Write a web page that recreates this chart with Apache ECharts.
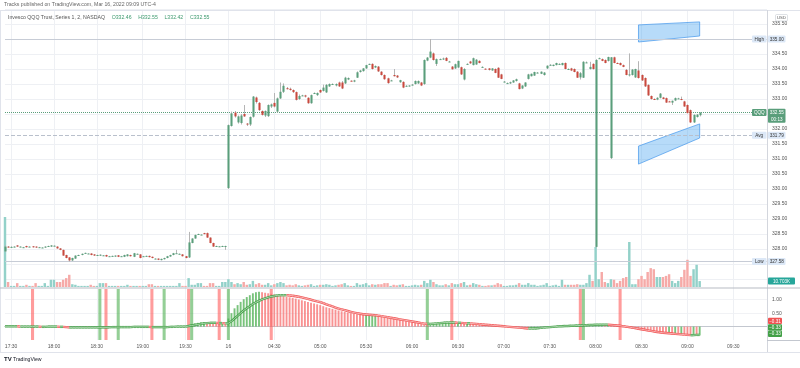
<!DOCTYPE html>
<html><head><meta charset="utf-8">
<script src="https://cdn.jsdelivr.net/npm/echarts/dist/echarts.min.js"></script>
<style>html,body{margin:0;padding:0;background:#fff}#c{width:800px;height:368px}</style>
</head><body><div id="c"></div>
<script>
// ---------- time categories (2-minute bars) ----------
const missingAH = ['17:44','18:14','19:12','19:44'];
function pad(n){return (n<10?'0':'')+n;}
const cats = [];
for (let m = 17*60+26; m <= 19*60+58; m += 2) { const t = pad(Math.floor(m/60))+':'+pad(m%60); if (missingAH.indexOf(t) < 0) cats.push(t); }
for (let m = 4*60; m <= 9*60+52; m += 2) cats.push(pad(Math.floor(m/60))+':'+pad(m%60));

// ---------- OHLC [open, high, low, close] ----------
const ohlcAfterHours = [
[327.92,328.12,327.90,328.08],[328.08,328.10,328.05,328.07],[328.07,328.09,328.06,328.07],[328.07,328.09,328.06,328.08],[328.12,328.13,328.07,328.08],
[328.08,328.09,328.07,328.08],[328.06,328.07,328.05,328.06],[328.10,328.11,328.05,328.06],[328.08,328.09,328.07,328.08],[328.09,328.10,328.05,328.06],
[328.08,328.09,328.04,328.05],[328.06,328.07,328.05,328.06],[328.05,328.06,328.04,328.05],[328.05,328.09,328.04,328.08],[328.10,328.11,328.09,328.10],
[328.08,328.13,328.07,328.12],[328.11,328.12,328.10,328.11],[328.08,328.09,328.01,328.02],[328.02,328.03,327.96,327.97],[327.97,327.98,327.77,327.78],
[327.80,327.81,327.69,327.70],[327.72,327.73,327.58,327.62],[327.62,327.71,327.60,327.70],[327.68,327.79,327.67,327.78],[327.80,327.81,327.79,327.80],
[327.80,327.85,327.79,327.84],[327.87,327.88,327.86,327.87],[327.85,327.86,327.84,327.85],[327.85,327.86,327.79,327.80],[327.82,327.83,327.77,327.78],
[327.80,327.81,327.79,327.80],[327.78,327.82,327.77,327.81],[327.79,327.80,327.78,327.79],[327.80,327.81,327.74,327.75],[327.76,327.77,327.75,327.76],
[327.77,327.78,327.76,327.77],[327.75,327.79,327.74,327.78],[327.79,327.80,327.73,327.74],[327.76,327.77,327.75,327.76],[327.74,327.81,327.73,327.80],
[327.76,327.83,327.75,327.82],[327.80,327.81,327.75,327.76],[327.74,327.87,327.73,327.86],[327.84,327.85,327.83,327.84],[327.82,327.83,327.69,327.70],
[327.76,327.77,327.75,327.76],[327.77,327.78,327.76,327.77],[327.77,327.78,327.72,327.73],[327.74,327.75,327.69,327.70],[327.68,327.69,327.67,327.68],
[327.68,327.69,327.63,327.64],[327.63,327.68,327.62,327.67],[327.66,327.71,327.65,327.70],[327.70,327.77,327.69,327.76],[327.75,327.81,327.74,327.80],
[327.80,327.87,327.79,327.86],[327.86,327.97,327.85,327.86],[327.84,327.85,327.83,327.84],[327.82,327.83,327.75,327.76],[327.76,327.77,327.69,327.70],
[327.72,328.57,327.70,328.22],[328.20,328.36,328.19,328.35],[328.35,328.48,328.34,328.47],[328.50,328.51,328.49,328.50],[328.48,328.49,328.47,328.48],
[328.53,328.54,328.49,328.50],[328.53,328.55,328.37,328.38],[328.38,328.39,328.19,328.20],[328.20,328.21,328.07,328.08],[328.10,328.11,328.09,328.10],
[328.09,328.10,328.08,328.09],[328.10,328.11,328.09,328.10],[328.10,328.11,327.97,328.10]
];
const ohlcPremarket = [
[330.03,332.15,330.00,332.13],[332.10,332.58,332.08,332.52],[332.55,332.60,332.38,332.42],[332.22,332.45,332.18,332.42],[332.20,332.50,332.15,332.45],
[332.50,332.80,332.40,332.42],[332.18,332.20,332.10,332.15],[332.15,332.42,332.10,332.40],[332.41,333.10,332.38,333.08],[333.05,333.08,332.85,332.90],
[332.87,332.90,332.60,332.63],[332.60,332.62,332.45,332.47],[332.45,332.62,332.40,332.60],[332.43,332.82,332.40,332.80],[332.75,332.85,332.70,332.82],
[332.87,333.20,332.72,332.75],[332.58,333.05,332.55,333.02],[333.02,333.55,333.00,333.24],[333.24,333.52,333.20,333.44],[333.36,333.40,333.32,333.35],
[333.34,333.38,333.28,333.30],[333.30,333.32,333.20,333.23],[333.23,333.25,332.95,332.97],[333.00,333.15,332.97,333.10],[333.11,333.14,333.10,333.12],
[333.12,333.14,333.05,333.08],[333.04,333.06,332.84,332.86],[332.86,333.15,332.84,333.13],[333.19,333.22,333.18,333.20],[333.13,333.22,333.10,333.20],
[333.30,333.32,333.20,333.22],[333.27,333.48,333.25,333.38],[333.22,333.50,333.20,333.47],[333.42,333.52,333.40,333.50],[333.50,333.52,333.48,333.50],
[333.45,333.52,333.42,333.50],[333.55,333.58,333.40,333.42],[333.55,333.60,333.33,333.35],[333.52,333.74,333.50,333.71],[333.65,333.72,333.63,333.70],
[333.61,333.62,333.59,333.60],[333.58,333.64,333.56,333.62],[333.71,333.92,333.70,333.89],[333.90,333.97,333.88,333.95],[333.93,334.03,333.91,334.02],
[334.02,334.14,334.00,334.13],[334.15,334.18,334.14,334.17],[334.17,334.19,333.98,334.00],[334.05,334.12,334.03,334.10],[334.08,334.10,333.90,333.92],
[333.91,333.93,333.78,333.80],[333.80,333.82,333.64,333.66],[333.69,333.71,333.51,333.53],[333.62,333.64,333.60,333.62],[333.80,334.00,333.75,333.76],
[333.78,333.80,333.70,333.72],[333.56,333.64,333.54,333.63],[333.57,333.59,333.36,333.38],[333.44,333.46,333.42,333.44],[333.43,333.46,333.41,333.45],
[333.47,333.50,333.45,333.48],[333.50,333.62,333.48,333.60],[333.52,333.62,333.50,333.60],[333.55,333.57,333.43,333.45],[333.50,334.32,333.47,334.30],
[334.28,334.40,334.26,334.38],[334.38,335.00,334.36,334.58],[334.52,334.55,334.28,334.30],[334.17,334.35,334.10,334.33],[334.33,334.35,334.31,334.33],
[334.34,334.38,334.30,334.35],[334.37,334.40,334.26,334.27],[334.25,334.27,334.23,334.25],[334.08,334.10,333.98,333.99],[334.02,334.18,334.00,334.16],
[334.05,334.28,334.03,334.27],[334.06,334.08,333.80,333.82],[333.65,334.03,333.62,334.00],[334.17,334.19,334.15,334.17],[334.25,334.27,334.17,334.19],
[334.13,334.38,334.12,334.36],[334.15,334.33,334.14,334.31],[334.27,334.29,334.19,334.20],[334.07,334.09,334.06,334.07],[334.01,334.02,333.99,334.00],
[334.02,334.03,333.95,333.97],[333.95,334.03,333.94,334.02],[334.00,334.02,333.86,333.87],[334.04,334.06,333.70,333.71],[333.82,333.84,333.66,333.67],
[333.58,333.60,333.56,333.58],[333.53,333.55,333.51,333.53],[333.52,333.58,333.50,333.56],[333.55,333.63,333.54,333.62],[333.60,333.68,333.58,333.66],
[333.52,333.54,333.32,333.33],[333.35,333.46,333.33,333.45],[333.42,333.56,333.40,333.55],[333.67,333.84,333.65,333.82],[333.76,333.85,333.75,333.84],
[333.78,333.91,333.77,333.90],[333.88,333.90,333.86,333.88],[333.84,333.92,333.83,333.91],[333.80,333.90,333.78,333.88],[334.02,334.12,334.00,334.11],
[334.14,334.16,334.12,334.14],[334.10,334.15,334.09,334.14],[334.13,334.21,334.12,334.20],[334.17,334.19,334.15,334.17],[334.13,334.21,334.12,334.20],
[334.20,334.22,333.99,334.00],[334.00,334.02,333.98,334.00],[334.02,334.04,333.93,333.95],[334.00,334.02,333.89,333.90],[333.91,333.93,333.70,333.71],
[333.72,333.90,333.65,333.86],[333.71,334.26,333.70,334.24],[334.22,334.25,334.20,334.22],[334.00,334.24,333.98,334.07],[334.17,334.19,333.98,334.00],
[328.07,334.33,328.05,334.30],[334.36,334.38,334.34,334.36],[334.33,334.35,334.26,334.27],[334.30,334.32,334.19,334.20],[334.27,334.41,334.25,334.40],
[331.03,334.40,331.00,334.39],[334.39,334.41,334.19,334.20],[334.20,334.22,334.17,334.19],[334.20,334.22,334.12,334.13],[334.13,334.15,334.06,334.07],
[333.97,334.00,333.79,333.80],[333.80,334.52,333.75,333.82],[333.80,334.00,333.78,333.98],[333.72,334.01,333.70,334.00],[333.95,334.26,333.68,333.70],
[333.80,333.82,333.60,333.62],[333.70,333.72,333.40,333.42],[333.47,333.49,333.10,333.12],[333.10,333.12,332.98,333.00],[333.00,333.02,332.97,332.99],
[332.98,333.06,332.96,333.04],[333.04,333.20,333.02,333.18],[333.05,333.07,332.99,333.00],[333.03,333.05,332.87,332.88],[332.92,332.94,332.90,332.91],
[332.88,332.95,332.80,332.94],[332.95,333.05,332.93,333.03],[333.02,333.04,333.00,333.02],[333.00,333.08,332.96,332.97],[332.92,332.94,332.74,332.75],
[332.80,332.82,332.52,332.53],[332.63,332.65,332.20,332.22],[332.22,332.49,332.20,332.47],[332.40,332.50,332.38,332.48],[332.46,332.55,332.42,332.55]
];

// ---------- volume (thousands) ----------
const volAfterHours = [126,9,2,2,7,2,2,4,2,2, 7,2,2,7,2,13,13,9,9,13, 16,22,5,4,2,2,2,2,4,2, 2,7,7,7,2,2,2,2,2,2,
  4,2,2,2,2,2,2,5,5,2, 2,2,2,2,2,2,2,7,2,2, 16,4,4,7,7,2,2,7,7,2, 2,9,9];
const volPremarket = [14,9,5,7,5,9,4,5,11,5, 7,4,4,7,3,5,7,9,7,3, 4,3,5,3,2,3,4,5,2,3, 4,4,5,4,2,3,4,5,7,3,
  2,2,7,4,5,7,3,5,4,5, 5,7,7,2,4,3,4,5,2,2, 3,4,3,4,11,7,13,9,5,3, 3,5,3,7,5,5,7,9,3,4,
  7,5,4,2,2,3,3,4,7,5, 2,2,3,3,4,7,4,4,7,4, 4,2,3,4,7,2,3,4,2,13, 4,4,4,4,5,4,4,7,22,11,
  72,14,27,9,7,14,13,7,11,16, 18,81,5,5,14,20,14,27,34,32, 18,18,18,20,23,11,7,11,18,31, 49,20,32,40,10.703];

// ---------- lower indicator ----------
const oscAfterHours = [0.01,0.02,0.01,0.00,-0.01,0.00,0.01,-0.01,0.00,-0.01,
 -0.01,0.00,-0.01,0.00,0.01,0.01,0.00,-0.01,-0.02,-0.04,
 -0.05,-0.06,-0.05,-0.04,-0.03,-0.02,-0.02,-0.03,-0.03,-0.03,
 -0.03,-0.02,-0.02,-0.03,-0.02,-0.02,-0.01,-0.02,-0.02,-0.01,
 0.00,-0.01,0.01,0.01,-0.01,-0.01,-0.01,-0.02,-0.02,-0.03,
 -0.03,-0.02,-0.02,-0.01,0.00,0.01,0.02,0.02,0.01,0.00,
 0.06,0.09,0.12,0.14,0.16,0.17,0.16,0.14,0.12,0.11,
 0.10,0.10,0.09];
const oscPremarket = [0.30,0.50,0.68,0.80,0.92,1.02,1.10,1.17,1.24,1.28,
 1.30,1.28,1.26,1.24,1.22,1.20,1.17,1.15,1.13,1.11,
 1.09,1.07,1.04,1.01,0.98,0.95,0.92,0.89,0.86,0.83,
 0.80,0.76,0.72,0.69,0.66,0.63,0.60,0.57,0.55,0.52,
 0.50,0.48,0.46,0.44,0.43,0.43,0.44,0.44,0.45,0.41,
 0.38,0.35,0.33,0.31,0.29,0.27,0.25,0.23,0.20,0.18,
 0.15,0.13,0.11,0.09,0.06,0.05,0.07,0.10,0.12,0.14,
 0.15,0.16,0.16,0.15,0.14,0.14,0.13,0.12,0.12,0.11,
 0.10,0.09,0.08,0.07,0.06,0.05,0.04,0.03,0.02,0.01,
 0.00,-0.01,-0.02,-0.03,-0.04,-0.05,-0.06,-0.07,-0.08,-0.07,
 -0.06,-0.05,-0.04,-0.03,-0.02,-0.01,0.00,0.01,0.02,0.02,
 0.03,0.03,0.04,0.04,0.05,0.05,0.06,0.06,0.07,0.07,
 0.08,0.08,0.08,0.07,0.07,0.06,0.04,0.02,0.00,-0.02,
 -0.04,-0.06,-0.08,-0.10,-0.12,-0.14,-0.16,-0.18,-0.20,-0.22,
 -0.24,-0.25,-0.26,-0.28,-0.27,-0.29,-0.28,-0.30,-0.29,-0.31,
 -0.33,-0.34,-0.32,-0.34,-0.33];
const sigAfterHours = [0.01,0.01,0.01,0.01,0.01,0.00,0.00,0.00,0.00,0.00,
 0.00,0.00,-0.01,-0.01,0.00,0.00,0.00,0.00,-0.01,-0.01,
 -0.02,-0.03,-0.03,-0.03,-0.03,-0.03,-0.03,-0.03,-0.03,-0.03,
 -0.03,-0.03,-0.03,-0.03,-0.03,-0.02,-0.02,-0.02,-0.02,-0.02,
 -0.02,-0.02,-0.01,-0.01,-0.01,-0.01,-0.01,-0.01,-0.02,-0.02,
 -0.02,-0.02,-0.02,-0.02,-0.01,-0.01,0.00,0.00,0.00,0.00,
 0.02,0.04,0.06,0.08,0.10,0.12,0.13,0.14,0.14,0.14,
 0.13,0.13,0.12];
const sigPremarket = [0.13,0.20,0.30,0.40,0.50,0.60,0.68,0.76,0.84,0.90,
 0.96,1.01,1.05,1.09,1.12,1.14,1.16,1.17,1.17,1.17,
 1.16,1.15,1.13,1.11,1.09,1.06,1.03,1.00,0.97,0.94,
 0.91,0.87,0.83,0.79,0.75,0.71,0.67,0.64,0.61,0.58,
 0.55,0.52,0.50,0.48,0.46,0.45,0.44,0.43,0.42,0.41,
 0.39,0.37,0.35,0.33,0.31,0.29,0.27,0.25,0.23,0.21,
 0.19,0.17,0.15,0.13,0.11,0.10,0.10,0.11,0.12,0.13,
 0.14,0.15,0.15,0.15,0.15,0.14,0.14,0.13,0.12,0.12,
 0.11,0.10,0.09,0.08,0.07,0.06,0.05,0.04,0.03,0.02,
 0.01,0.00,-0.01,-0.02,-0.03,-0.04,-0.05,-0.06,-0.07,-0.07,
 -0.07,-0.06,-0.05,-0.04,-0.03,-0.02,-0.01,0.00,0.01,0.01,
 0.02,0.02,0.03,0.03,0.04,0.04,0.05,0.05,0.06,0.06,
 0.07,0.07,0.07,0.07,0.07,0.06,0.05,0.04,0.03,0.01,
 0.00,-0.02,-0.04,-0.06,-0.08,-0.10,-0.12,-0.14,-0.16,-0.18,
 -0.20,-0.21,-0.23,-0.24,-0.25,-0.26,-0.27,-0.28,-0.29,-0.30,
 -0.31,-0.32,-0.32,-0.31,-0.31];
// signal highlight bars: [bar index, 1 = green / 0 = red]
const signalBars = [[9,0],[31,1],[33,0],[37,1],[48,0],[52,1],[60,0],[61,1],[70,0],[73,1],[87,0],[138,1],[146,0],[188,0],[189,1],[201,0]];

// ---------- drawings / levels ----------
const zones = [[207,335.47,334.90,227,335.57,335.10],[207,331.43,330.83,227,332.17,331.70]];
const levelHigh = 335.00, levelAvg = 331.79, levelLow = 327.58, lastPrice = 332.55;

// ---------- build ----------
const FONT = 'Liberation Sans, Arial, sans-serif';
const UP = '#5a9e7b', DOWN = '#c9493e';
const VUP = '#93d1c9', VDN = '#f6aaa8';
const OG = 'rgba(76,175,80,0.75)', OR = 'rgba(247,110,110,0.75)';
const ohlc = ohlcAfterHours.concat(ohlcPremarket);
const volume = volAfterHours.concat(volPremarket);
const osc = oscAfterHours.concat(oscPremarket);
const oscSig = sigAfterHours.concat(sigPremarket);

const candleData = ohlc.map((d,i)=>[i,d[0],d[1],d[2],d[3]]);
const volData = volume.map((v,i)=>({value:v, itemStyle:{color: ohlc[i][3]>=ohlc[i][0]?VUP:VDN}}));
const oscData = osc.map((v,i)=>({value:v, itemStyle:{color:(i===0||v>=osc[i-1])?OG:OR}}));
const segData = []; for (let i=1;i<oscSig.length;i++) segData.push([i, oscSig[i-1], oscSig[i]]);

const labelInt = (idx, val) => /:(00|30)$/.test(val);
const priceTicks = []; for (let v=326.5; v<=336.001; v+=0.5) priceTicks.push(v);
const priceSplitColors = priceTicks.map((v,k)=> k===0 ? 'rgba(0,0,0,0)' : '#eef0f4');

const chart = echarts.init(document.getElementById('c'), null, {renderer:'canvas'});
const option = {
  animation:false,
  backgroundColor:'#fff',
  grid:[
    {left:5, right:33, top:9, height:285},
    {left:5, right:33, top:187, height:100},
    {left:5, right:33, top:289, height:51}
  ],
  xAxis:[
    {gridIndex:0, type:'category', data:cats, boundaryGap:false, axisLine:{show:false}, axisTick:{show:false}, axisLabel:{show:false},
      splitLine:{show:true, interval:labelInt, lineStyle:{color:'#eef0f4'}}},
    {gridIndex:1, type:'category', data:cats, boundaryGap:false, show:false},
    {gridIndex:2, type:'category', data:cats, boundaryGap:false, axisLine:{show:true, lineStyle:{color:'#c3c7cf'}}, axisTick:{show:false},
      axisLabel:{interval:labelInt, formatter:v=> v==='04:00'?'16':v, fontSize:5, color:'#555', margin:4, fontFamily:FONT},
      splitLine:{show:true, interval:labelInt, lineStyle:{color:'#eef0f4'}}}
  ],
  yAxis:[
    {gridIndex:0, type:'value', position:'right', min:326.5, max:336, interval:0.5, axisLine:{show:false}, axisTick:{show:false},
      axisLabel:{fontSize:5, color:'#555', margin:5, fontFamily:FONT, formatter:v=> (v>=327.99 && v<=335.51 && Math.abs(v-332.5)>0.01 && Math.abs(v-335)>0.01)? v.toFixed(2):''},
      splitLine:{show:true, lineStyle:{color:priceSplitColors}}},
    {gridIndex:1, type:'value', min:0, max:180, show:false},
    {gridIndex:2, type:'value', position:'right', min:-0.5, max:1.4, interval:0.5, axisLine:{show:false}, axisTick:{show:false},
      axisLabel:{fontSize:5, color:'#555', margin:5, fontFamily:FONT, formatter:v=> (Math.abs(v-0.5)<0.01||Math.abs(v-1)<0.01)? v.toFixed(2):''},
      splitLine:{show:true, lineStyle:{color:['rgba(0,0,0,0)','#f1f2f5','#f1f2f5','#f1f2f5']}}}
  ],
  series:[
    {type:'line', xAxisIndex:0, yAxisIndex:0, data:ohlc.map(d=>d[3]), symbol:'none', lineStyle:{opacity:0}, silent:true, z:1,
      markLine:{silent:true, symbol:'none', label:{show:false}, data:[
        {yAxis:levelHigh, lineStyle:{type:'solid', color:'#c7ccd6', width:1}},
        {yAxis:levelAvg, lineStyle:{type:'dashed', color:'#b9c0cc', width:1}},
        {yAxis:levelLow, lineStyle:{type:'solid', color:'#c7ccd6', width:1}},
        {yAxis:lastPrice, lineStyle:{type:'dotted', color:UP, width:1}}
      ]}},
    {type:'custom', xAxisIndex:0, yAxisIndex:0, data:zones, encode:{x:[0,3], y:[1,2,4,5]}, z:2,
      renderItem:(p, api)=>{
        const a=api.coord([api.value(0),api.value(1)]), b=api.coord([api.value(3),api.value(4)]),
              c=api.coord([api.value(3),api.value(5)]), d=api.coord([api.value(0),api.value(2)]);
        return {type:'polygon', shape:{points:[a,b,c,d]}, style:{fill:'rgba(66,160,240,0.38)', stroke:'rgba(66,150,235,0.7)', lineWidth:1}};
      }},
    {type:'custom', xAxisIndex:0, yAxisIndex:0, data:candleData, encode:{x:0, y:[1,2,3,4]}, z:5,
      renderItem:(p, api)=>{
        const x=api.value(0), o=api.value(1), h=api.value(2), l=api.value(3), c=api.value(4);
        const pO=api.coord([x,o]), pC=api.coord([x,c]), pH=api.coord([x,h]), pL=api.coord([x,l]);
        const w=Math.max(api.size([1,0])[0]*0.68,1.5);
        const top=Math.min(pO[1],pC[1]), bh=Math.max(Math.abs(pO[1]-pC[1]),1);
        const xc=Math.round(pO[0])+0.5;
        return {type:'group', children:[
          {type:'line', shape:{x1:xc, y1:pH[1], x2:xc, y2:pL[1]}, style:{stroke:'#b5b5b5', lineWidth:1}},
          {type:'rect', shape:{x:xc-w/2, y:top, width:w, height:bh}, style:{fill: c>=o?UP:DOWN}}
        ]};
      }},
    {type:'bar', xAxisIndex:1, yAxisIndex:1, data:volData, barWidth:'80%', silent:true, z:1},
    {type:'custom', xAxisIndex:2, yAxisIndex:2, data:signalBars, encode:{x:0, y:1}, z:1,
      renderItem:(p, api)=>{
        const i=api.value(0), g=api.value(1);
        const t=api.coord([i,1.4]), b=api.coord([i,-0.5]); const w=api.size([1,0])[0];
        return {type:'rect', shape:{x:t[0]-w/2, y:t[1], width:w, height:b[1]-t[1]}, style:{fill: g? 'rgba(76,175,80,0.6)':'rgba(255,90,90,0.6)'}};
      }},
    {type:'bar', xAxisIndex:2, yAxisIndex:2, data:oscData, barWidth:'62%', silent:true, z:2},
    {type:'custom', xAxisIndex:2, yAxisIndex:2, data:segData, encode:{x:0, y:[1,2]}, z:3,
      renderItem:(p, api)=>{
        const i=api.value(0), a=api.value(1), b=api.value(2);
        const p1=api.coord([i-1,a]), p2=api.coord([i,b]);
        const col = b>=a ? '#43a047' : '#f05252';
        return {type:'group', children:[
          {type:'line', shape:{x1:p1[0],y1:p1[1],x2:p2[0],y2:p2[1]}, style:{stroke:col, lineWidth:2.4}},
          {type:'line', shape:{x1:p1[0],y1:p1[1],x2:p2[0],y2:p2[1]}, style:{stroke:'#fff', lineWidth:0.7, opacity:0.8}}
        ]};
      }}
  ]
};
chart.setOption(option);

// ---------- overlays: frame, texts, badges ----------
const yP = v => chart.convertToPixel({yAxisIndex:0}, v);
const yV = v => chart.convertToPixel({yAxisIndex:1}, v);
const yO = v => chart.convertToPixel({yAxisIndex:2}, v);
const G = [];
function line(x1,y1,x2,y2,c,w){G.push({type:'line', silent:true, z:50, shape:{x1,y1,x2,y2}, style:{stroke:c, lineWidth:w||1}});}
function text(x,y,t,size,fill,align,weight){G.push({type:'text', silent:true, z:60, style:{x, y, text:t, fill, font:(weight||'normal')+' '+size+'px '+FONT, align:align||'left', verticalAlign:'middle'}});}
function badge(x,yc,w,h,t,bg,fg){
  G.push({type:'rect', silent:true, z:55, shape:{x, y:yc-h/2, width:w, height:h, r:1}, style:{fill:bg}});
  text(x+w/2, yc+0.3, t, 4.6, fg, 'center');
}
line(0,10.5,800,10.5,'#e0e3eb');
line(0.5,10,0.5,352,'#e0e3eb');
line(767.5,10,767.5,352,'#d3d6dd');
line(0,288,800,288,'#b8bcc4',1.2);
line(767,340.5,800,340.5,'#c3c7cf');
line(0,352.5,800,352.5,'#e0e3eb');
text(4,5,'Tracks published on TradingView.com, Mar 16, 2022 09:09 UTC-4',5.2,'#666');
G.push({type:'text', silent:true, z:60, style:{x:8, y:17.5, verticalAlign:'middle', text:'{a|Invesco QQQ Trust, Series 1, 2, NASDAQ}  {g|O332.46}  {g|H332.55}  {g|L332.42}  {g|C332.55}',
  rich:{a:{fill:'#555', fontSize:5.2, fontFamily:FONT}, g:{fill:'#3d9a6e', fontSize:5.2, fontFamily:FONT}}}});
text(4,359,'TV',6,'#131722','left','bold');
text(13,359.5,'TradingView',5.2,'#131722');
// USD
G.push({type:'rect', silent:true, z:55, shape:{x:775.5, y:14.5, width:12, height:6.5, r:1}, style:{fill:'#fff', stroke:'#c8ccd4', lineWidth:0.6}});
text(781.5, 17.9, 'USD', 4.2, '#555', 'center');
const LB = '#dce8f7';
badge(752, yP(levelHigh), 14.5, 7, 'High', LB, '#333');
badge(768, yP(levelHigh), 17.5, 7, levelHigh.toFixed(2), LB, '#333');
badge(752, yP(levelAvg), 14.5, 7, 'Avg', LB, '#333');
badge(768, yP(levelAvg), 17.5, 7, levelAvg.toFixed(2), LB, '#333');
badge(752, yP(levelLow), 14.5, 7, 'Low', LB, '#333');
badge(768, yP(levelLow), 17.5, 7, levelLow.toFixed(2), LB, '#333');
const yl = yP(lastPrice);
badge(752, yl, 14.5, 7, 'QQQ', UP, '#fff');
G.push({type:'rect', silent:true, z:55, shape:{x:768, y:yl-3.8, width:17.5, height:14, r:1}, style:{fill:UP}});
text(776.75, yl+0.2, lastPrice.toFixed(2), 4.6, '#fff', 'center');
text(776.75, yl+6.8, '00:13', 4.6, '#fff', 'center');
badge(768, yV(volume[volume.length-1]), 27, 7, '10.703K', '#26a69a', '#fff');
const yo = yO(-0.33) - 1.7;
badge(768, yo-12.8, 14, 6.3, '\u22120.31', '#f05252', '#fff');
badge(768, yo-6.4, 14, 6.3, '\u22120.33', '#43a047', '#fff');
badge(768, yo, 14, 6.3, '\u22120.33', '#43a047', '#fff');
chart.setOption({graphic:G});
</script></body></html>
